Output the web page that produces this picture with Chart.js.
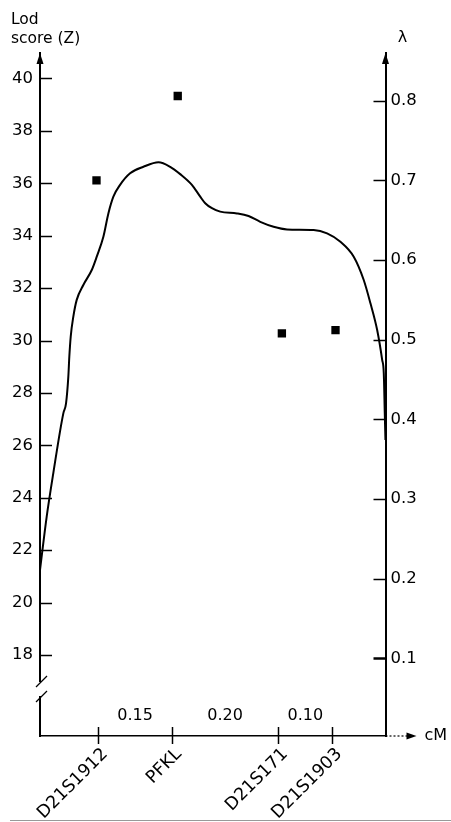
<!DOCTYPE html>
<html><head><meta charset="utf-8">
<script src="https://cdn.jsdelivr.net/npm/chart.js@4"></script>
<style>html,body{margin:0;padding:0;background:#fff;}canvas{display:block}</style>
</head><body>
<canvas id="c" width="451" height="822"></canvas>
<script>
// ---- data ----
const markerNames = ['D21S1912', 'PFKL', 'D21S171', 'D21S1903'];
const markerPos = [0, 0.142, 0.346, 0.45];          // map position (cM from D21S1912)
const intervalLabels = ['0.15', '0.20', '0.10'];

const lodX = [-0.1115, -0.0987, -0.0860, -0.0667, -0.0615, -0.0571, -0.0552, -0.0525, -0.0475,
  -0.0410, -0.0283, -0.0121, -0.0025, 0.0102, 0.0198, 0.0294, 0.0423, 0.0615, 0.0871, 0.1160,
  0.1385, 0.1577, 0.1802, 0.1962, 0.2058, 0.2187, 0.2346, 0.2667, 0.2890, 0.3115, 0.3371,
  0.3629, 0.4140, 0.4398, 0.4654, 0.4910, 0.5102, 0.5231, 0.5360, 0.5456, 0.5487, 0.5506, 0.5519];
const lodZ = [21.24, 23.27, 24.93, 27.22, 27.60, 28.62, 29.38, 30.15, 30.91,
  31.55, 32.12, 32.69, 33.20, 33.96, 34.85, 35.49, 35.94, 36.38, 36.63, 36.80,
  36.63, 36.35, 35.94, 35.49, 35.24, 35.05, 34.92, 34.85, 34.75, 34.53, 34.34,
  34.24, 34.22, 34.09, 33.77, 33.20, 32.31, 31.42, 30.40, 29.26, 28.75, 27.23, 26.20];

const lambdaX = [-0.003, 0.153, 0.353, 0.456];
const lambdaVal = [0.700, 0.806, 0.508, 0.512];

const zTicks = [18, 20, 22, 24, 26, 28, 30, 32, 34, 36, 38, 40];
const lambdaTicks = [0.1, 0.2, 0.3, 0.4, 0.5, 0.6, 0.7, 0.8];

const FONT = 'DejaVu Sans';

const decorPlugin = {
  id: 'decor',
  afterDraw(chart) {
    const ctx = chart.ctx;
    const ca = chart.chartArea;
    const sx = chart.scales.x, sz = chart.scales.y, sl = chart.scales.y1;
    ctx.save();
    ctx.strokeStyle = '#000';
    ctx.fillStyle = '#000';
    ctx.lineWidth = 1.5;
    // inward tick marks
    zTicks.forEach(v => {
      const y = Math.round(sz.getPixelForValue(v)) + 0.5;
      ctx.beginPath(); ctx.moveTo(ca.left, y); ctx.lineTo(ca.left + 12, y); ctx.stroke();
    });
    lambdaTicks.forEach(v => {
      const y = Math.round(sl.getPixelForValue(v)) + 0.5;
      ctx.lineWidth = v === 0.1 ? 2.5 : 1.5;
      ctx.beginPath(); ctx.moveTo(ca.right - 12, y); ctx.lineTo(ca.right, y); ctx.stroke();
    });
    ctx.lineWidth = 1.5;
    markerPos.forEach(v => {
      const x = Math.round(sx.getPixelForValue(v)) + 0.5;
      ctx.beginPath(); ctx.moveTo(x, ca.bottom - 9); ctx.lineTo(x, ca.bottom + 8); ctx.stroke();
    });
    // arrows on vertical axes
    [ca.left, ca.right].forEach(x => {
      ctx.beginPath();
      ctx.moveTo(x, ca.top); ctx.lineTo(x - 3.5, ca.top + 11); ctx.lineTo(x + 3.5, ca.top + 11);
      ctx.closePath(); ctx.fill();
    });
    // x axis extension (dotted) + arrow
    ctx.setLineDash([2, 2]);
    ctx.lineWidth = 1.2;
    ctx.beginPath(); ctx.moveTo(ca.right, ca.bottom); ctx.lineTo(ca.right + 22, ca.bottom); ctx.stroke();
    ctx.setLineDash([]);
    ctx.beginPath();
    ctx.moveTo(ca.right + 31, ca.bottom); ctx.lineTo(ca.right + 21, ca.bottom - 3.5); ctx.lineTo(ca.right + 21, ca.bottom + 3.5);
    ctx.closePath(); ctx.fill();
    // axis break on the left axis
    ctx.fillStyle = '#fff';
    ctx.fillRect(ca.left - 2, 682, 4, 14);
    ctx.fillStyle = '#000';
    ctx.lineWidth = 1.3;
    ctx.beginPath(); ctx.moveTo(ca.left - 4, 687); ctx.lineTo(ca.left + 7, 676); ctx.stroke();
    ctx.beginPath(); ctx.moveTo(ca.left - 4, 702); ctx.lineTo(ca.left + 7, 691); ctx.stroke();
    // interval labels
    ctx.font = '16px "' + FONT + '"';
    ctx.textAlign = 'center';
    ctx.textBaseline = 'middle';
    intervalLabels.forEach((t, i) => {
      const x = sx.getPixelForValue((markerPos[i] + markerPos[i + 1]) / 2);
      ctx.fillText(t, x, ca.bottom - 20);
    });
    // axis titles
    ctx.textAlign = 'left';
    ctx.font = '15.5px "' + FONT + '"';
    ctx.fillText('Lod', 11, 20);
    ctx.fillText('score (Z)', 11, 39);
    ctx.font = '16px "' + FONT + '"';
    ctx.textAlign = 'center';
    ctx.fillText('λ', ca.right + 17, 38);
    ctx.textAlign = 'left';
    ctx.fillText('cM', ca.right + 39, ca.bottom);
    // gray rule at bottom
    ctx.strokeStyle = '#999';
    ctx.lineWidth = 1;
    ctx.beginPath(); ctx.moveTo(10, 820.5); ctx.lineTo(451, 820.5); ctx.stroke();
    ctx.restore();
  }
};

new Chart(document.getElementById('c'), {
  type: 'scatter',
  data: {
    datasets: [
      {
        label: 'Lod score (Z)',
        data: lodX.map((x, i) => ({ x, y: lodZ[i] })),
        yAxisID: 'y',
        showLine: true,
        borderColor: '#000',
        borderWidth: 2,
        pointRadius: 0,
        cubicInterpolationMode: 'monotone',
        fill: false
      },
      {
        label: 'λ',
        data: lambdaX.map((x, i) => ({ x, y: lambdaVal[i] })),
        yAxisID: 'y1',
        showLine: false,
        pointStyle: 'rect',
        pointRadius: 5.9,
        backgroundColor: '#000',
        borderColor: '#000',
        borderWidth: 0
      }
    ]
  },
  options: {
    responsive: false,
    animation: false,
    events: [],
    layout: { padding: { top: 53, left: 0, right: 0, bottom: 0 } },
    plugins: { legend: { display: false }, tooltip: { enabled: false } },
    scales: {
      x: {
        type: 'linear',
        min: -0.1115, max: 0.552,
        afterBuildTicks: s => { s.ticks = markerPos.map(v => ({ value: v })); },
        afterFit: s => { s.height = 86; s.paddingLeft = 0; s.paddingRight = 0; },
        grid: { display: false, drawTicks: false },
        border: { display: true, color: '#000', width: 1.5 },
        ticks: {
          autoSkip: false, minRotation: 45, maxRotation: 45, padding: 8, labelOffset: 7,
          color: '#000', font: { family: FONT, size: 17.5 },
          callback: (v) => { const i = markerPos.indexOf(v); return i >= 0 ? markerNames[i] : ''; }
        }
      },
      y: {
        type: 'linear', position: 'left',
        min: 14.905, max: 40.973,
        afterBuildTicks: s => { s.ticks = zTicks.map(v => ({ value: v })); },
        afterFit: s => { s.width = 40; },
        grid: { display: false, drawTicks: false },
        border: { display: true, color: '#000', width: 2 },
        ticks: { padding: 7, color: '#000', font: { family: FONT, size: 16.5 } }
      },
      y1: {
        type: 'linear', position: 'right',
        min: 0.0025, max: 0.86,
        afterBuildTicks: s => { s.ticks = lambdaTicks.map(v => ({ value: v })); },
        afterFit: s => { s.width = 65.5; },
        grid: { display: false, drawTicks: false },
        border: { display: true, color: '#000', width: 2 },
        ticks: { padding: 5, color: '#000', font: { family: FONT, size: 16.5 },
          callback: v => v.toFixed(1) }
      }
    }
  },
  plugins: [decorPlugin]
});
</script>
</body></html>
